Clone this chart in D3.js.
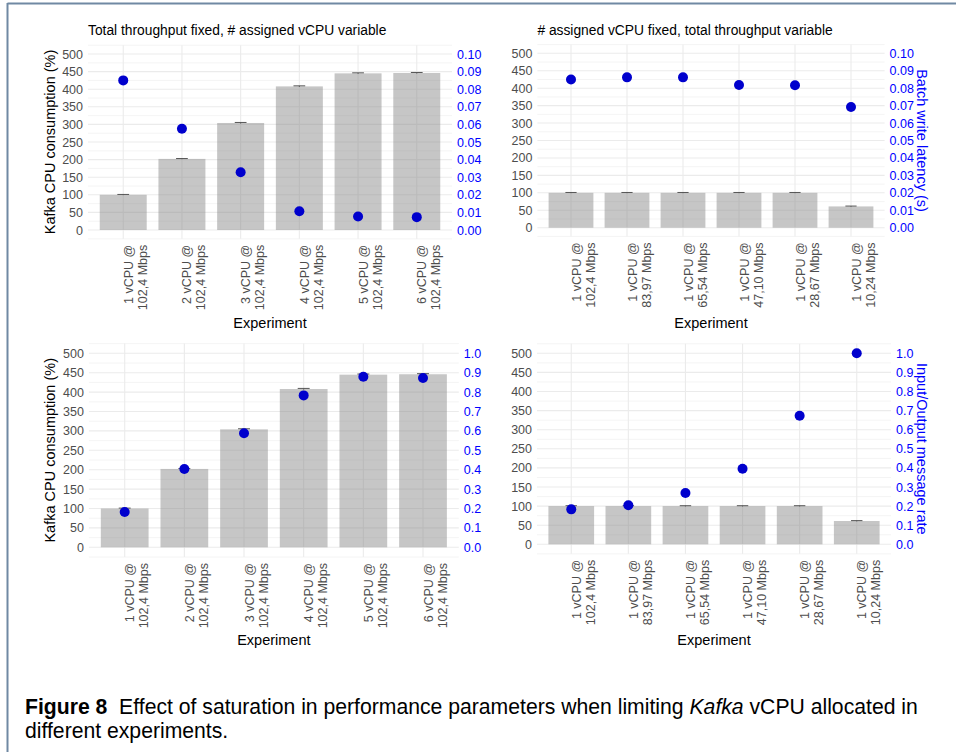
<!DOCTYPE html>
<html>
<head>
<meta charset="utf-8">
<script src="https://cdnjs.cloudflare.com/ajax/libs/d3/7.8.5/d3.min.js"></script>
<style>
body { margin: 0; background: #fff; }
svg { display: block; font-family: "Liberation Sans", Arial, sans-serif; }
</style>
</head>
<body>
<div id="fig"></div>
<script>
"use strict";

// experiments: total throughput fixed, # vCPU variable
const tputFixedLabels = [
    ["1 vCPU @", "102,4 Mbps"], ["2 vCPU @", "102,4 Mbps"], ["3 vCPU @", "102,4 Mbps"],
    ["4 vCPU @", "102,4 Mbps"], ["5 vCPU @", "102,4 Mbps"], ["6 vCPU @", "102,4 Mbps"]
];
// experiments: # vCPU fixed, total throughput variable
const cpuFixedLabels = [
    ["1 vCPU @", "102,4 Mbps"], ["1 vCPU @", "83,97 Mbps"], ["1 vCPU @", "65,54 Mbps"],
    ["1 vCPU @", "47,10 Mbps"], ["1 vCPU @", "28,67 Mbps"], ["1 vCPU @", "10,24 Mbps"]
];

const cpuTputFixed = [100, 202, 304, 408, 445, 446];
const cpuTputFixedErr = [1, 1, 1.5, 1.5, 1.5, 1.5];
const cpuCpuFixed = [100, 100, 100, 100, 100, 61];
const cpuCpuFixedErr = [1, 1, 1, 1, 1, 1];

const latencyTputFixed = [0.085, 0.0575, 0.0328, 0.0107, 0.0077, 0.0073];
const latencyCpuFixed = [0.085, 0.0862, 0.0862, 0.0818, 0.0817, 0.0692];
const rateTputFixed = [0.182, 0.404, 0.588, 0.783, 0.879, 0.873];
const rateCpuFixed = [0.183, 0.204, 0.269, 0.396, 0.673, 1.0];

const leftTicks = [0, 50, 100, 150, 200, 250, 300, 350, 400, 450, 500];
const latencyTicks = [0, 0.01, 0.02, 0.03, 0.04, 0.05, 0.06, 0.07, 0.08, 0.09, 0.10];
const rateTicks = [0, 0.1, 0.2, 0.3, 0.4, 0.5, 0.6, 0.7, 0.8, 0.9, 1.0];

const WIDTH = 956, HEIGHT = 752;

let svg = d3.select("#fig")
    .append("svg")
    .attr("width", WIDTH)
    .attr("height", HEIGHT);

// figure frame (top and left edges only)
svg.append("line").attr("x1", 7.5).attr("x2", WIDTH).attr("y1", 3.5).attr("y2", 3.5)
    .attr("stroke", "#7089a3").attr("stroke-width", 2);
svg.append("line").attr("x1", 7.5).attr("x2", 7.5).attr("y1", 3).attr("y2", HEIGHT)
    .attr("stroke", "#7089a3").attr("stroke-width", 2);

function panel(p) {
    let pxPer = (p.y0 - p.y500) / 500;
    let y = d3.scaleLinear()
        .domain([-25, 525])
        .range([p.y0 + 25 * pxPer, p.y500 - 25 * pxPer]);
    let y2 = d3.scaleLinear()
        .domain([-0.05 * p.rightMax, 1.05 * p.rightMax])
        .range(y.range());
    let x = d3.scaleBand()
        .domain(d3.range(p.bars.length))
        .range([p.x0, p.x1])
        .paddingInner(0.2)
        .paddingOuter(0.2);
    let bw = x.bandwidth();
    let cx = i => x(i) + bw / 2;
    let step = x.step();

    let g = svg.append("g");

    // grid
    g.selectAll(".minor").data(d3.range(-25, 526, 50)).enter()
        .append("line")
        .attr("x1", p.x0).attr("x2", p.x1)
        .attr("y1", d => y(d)).attr("y2", d => y(d))
        .attr("stroke", "#f1f1f1").attr("stroke-width", 0.8);
    g.selectAll(".major").data(leftTicks).enter()
        .append("line")
        .attr("x1", p.x0).attr("x2", p.x1)
        .attr("y1", d => y(d)).attr("y2", d => y(d))
        .attr("stroke", "#ebebeb").attr("stroke-width", 1.1);
    g.selectAll(".vgrid").data(d3.range(p.bars.length)).enter()
        .append("line")
        .attr("x1", cx).attr("x2", cx)
        .attr("y1", y.range()[0]).attr("y2", y.range()[1])
        .attr("stroke", "#ebebeb").attr("stroke-width", 1.1);

    // bars
    g.selectAll(".bar").data(p.bars).enter()
        .append("rect")
        .attr("x", (d, i) => x(i))
        .attr("y", d => y(d))
        .attr("width", bw)
        .attr("height", d => y(0) - y(d))
        .attr("fill", "#808080")
        .attr("fill-opacity", 0.45);

    // error bars
    let eb = g.selectAll(".err").data(p.bars).enter().append("g");
    eb.append("line")
        .attr("x1", (d, i) => cx(i)).attr("x2", (d, i) => cx(i))
        .attr("y1", (d, i) => y(d - p.errs[i])).attr("y2", (d, i) => y(d + p.errs[i]))
        .attr("stroke", "#555").attr("stroke-width", 1);
    eb.append("line")
        .attr("x1", (d, i) => cx(i) - step * 0.1).attr("x2", (d, i) => cx(i) + step * 0.1)
        .attr("y1", (d, i) => y(d + p.errs[i])).attr("y2", (d, i) => y(d + p.errs[i]))
        .attr("stroke", "#555").attr("stroke-width", 1);

    // points on the secondary axis
    g.selectAll(".pt").data(p.points).enter()
        .append("circle")
        .attr("cx", (d, i) => cx(i))
        .attr("cy", d => y2(d))
        .attr("r", 5)
        .attr("fill", "#0000cd");

    // left axis
    g.append("g")
        .attr("transform", "translate(" + p.x0 + ",0)")
        .attr("font-size", null).attr("font-family", null)
        .call(d3.axisLeft(y).tickValues(leftTicks).tickSize(0).tickPadding(5))
        .call(a => a.select(".domain").remove())
        .selectAll("text")
        .attr("fill", "#4d4d4d")
        .style("font-size", "12.5px");

    // right axis
    g.append("g")
        .attr("transform", "translate(" + p.x1 + ",0)")
        .attr("font-size", null).attr("font-family", null)
        .call(d3.axisRight(y2).tickValues(p.rightTicks).tickFormat(d3.format(p.rightFmt)).tickSize(0).tickPadding(5))
        .call(a => a.select(".domain").remove())
        .selectAll("text")
        .attr("fill", "#0000ff")
        .style("font-size", "12.5px");

    // x tick labels, rotated, two lines
    let labTop = y.range()[0] + 6;
    let lab = g.selectAll(".xlab").data(p.labels).enter()
        .append("text")
        .attr("transform", (d, i) => "translate(" + cx(i) + "," + labTop + ") rotate(-90)")
        .attr("text-anchor", "end")
        .attr("fill", "#4d4d4d")
        .style("font-size", "12.5px");
    lab.append("tspan").attr("x", 0).attr("y", 9.5).text(d => d[0]);
    lab.append("tspan").attr("x", 0).attr("y", 23.5).text(d => d[1]);

    // axis titles
    g.append("text")
        .attr("x", (p.x0 + p.x1) / 2)
        .attr("y", p.xTitleY)
        .attr("text-anchor", "middle")
        .style("font-size", "14.5px")
        .text("Experiment");

    let midY = (y.range()[0] + y.range()[1]) / 2;
    if (p.leftTitle) {
        g.append("text")
            .attr("transform", "translate(55," + midY + ") rotate(-90)")
            .attr("text-anchor", "middle")
            .style("font-size", "14.5px")
            .text(p.leftTitle);
    }
    if (p.rightTitle) {
        g.append("text")
            .attr("transform", "translate(917," + midY + ") rotate(90)")
            .attr("text-anchor", "middle")
            .attr("fill", "#0000ff")
            .style("font-size", "14.5px")
            .text(p.rightTitle);
    }
    if (p.title) {
        g.append("text")
            .attr("x", p.x0)
            .attr("y", 35)
            .style("font-size", "13.8px")
            .text(p.title);
    }
}

panel({
    bars: cpuTputFixed, errs: cpuTputFixedErr, points: latencyTputFixed, labels: tputFixedLabels,
    x0: 88, x1: 452, y0: 230, y500: 54, rightMax: 0.1, rightTicks: latencyTicks, rightFmt: ".2f",
    xTitleY: 328, title: "Total throughput fixed, # assigned vCPU variable",
    leftTitle: "Kafka CPU consumption (%)"
});
panel({
    bars: cpuCpuFixed, errs: cpuCpuFixedErr, points: latencyCpuFixed, labels: cpuFixedLabels,
    x0: 537.4, x1: 884.6, y0: 227.7, y500: 53.3, rightMax: 0.1, rightTicks: latencyTicks, rightFmt: ".2f",
    xTitleY: 328, title: "# assigned vCPU fixed, total throughput variable",
    rightTitle: "Batch write latency (s)"
});
panel({
    bars: cpuTputFixed, errs: cpuTputFixedErr, points: rateTputFixed, labels: tputFixedLabels,
    x0: 88.9, x1: 458.8, y0: 547.3, y500: 353.3, rightMax: 1, rightTicks: rateTicks, rightFmt: ".1f",
    xTitleY: 645, leftTitle: "Kafka CPU consumption (%)"
});
panel({
    bars: cpuCpuFixed, errs: cpuCpuFixedErr, points: rateCpuFixed, labels: cpuFixedLabels,
    x0: 537, x1: 891, y0: 544.3, y500: 353.3, rightMax: 1, rightTicks: rateTicks, rightFmt: ".1f",
    xTitleY: 645, rightTitle: "Input/Output message rate"
});

// caption
let cap = svg.append("g").style("font-size", "20px");
let line1 = cap.append("text").attr("x", 25).attr("y", 714);
line1.append("tspan").attr("font-weight", "bold").text("Figure 8");
line1.append("tspan").text("\u00a0 Effect of saturation in performance parameters when limiting ");
line1.append("tspan").attr("font-style", "italic").text("Kafka");
line1.append("tspan").text(" vCPU allocated in");
cap.append("text").attr("x", 25).attr("y", 738).text("different experiments.");

// fit the caption width to the page column
let w = line1.node().getComputedTextLength();
cap.style("font-size", (20 * 893 / w).toFixed(2) + "px");
</script>
</body>
</html>
